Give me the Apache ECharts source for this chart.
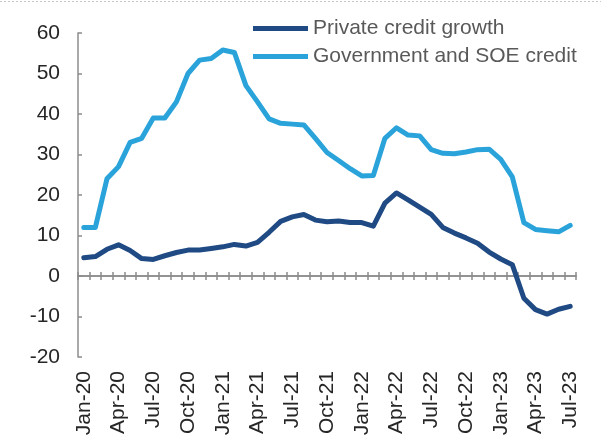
<!DOCTYPE html>
<html>
<head>
<meta charset="utf-8">
<script src="https://cdn.jsdelivr.net/npm/echarts@6/dist/echarts.min.js"></script>
<style>
  html, body { margin: 0; padding: 0; background: #ffffff; }
  #chart { width: 601px; height: 448px; }
</style>
</head>
<body>
<div id="chart"></div>
<script>
// Monthly categories, Jan-20 .. Jul-23
const months = [
  'Jan-20','Feb-20','Mar-20','Apr-20','May-20','Jun-20','Jul-20','Aug-20','Sep-20','Oct-20','Nov-20','Dec-20',
  'Jan-21','Feb-21','Mar-21','Apr-21','May-21','Jun-21','Jul-21','Aug-21','Sep-21','Oct-21','Nov-21','Dec-21',
  'Jan-22','Feb-22','Mar-22','Apr-22','May-22','Jun-22','Jul-22','Aug-22','Sep-22','Oct-22','Nov-22','Dec-22',
  'Jan-23','Feb-23','Mar-23','Apr-23','May-23','Jun-23','Jul-23'
];

// Private credit growth, % y/y
const privateCredit = [
  4.5, 4.8, 6.6, 7.7, 6.3, 4.3, 4.1, 5.0, 5.8, 6.4, 6.4, 6.8,
  7.2, 7.8, 7.4, 8.3, 10.8, 13.5, 14.6, 15.2, 13.8, 13.4, 13.6, 13.2,
  13.2, 12.3, 18.0, 20.5, 18.8, 17.0, 15.2, 12.0, 10.6, 9.4, 8.1, 5.9,
  4.2, 2.8, -5.5, -8.3, -9.4, -8.2, -7.5
];

// Government and SOE credit growth, % y/y
const govSoeCredit = [
  12.0, 12.0, 24.0, 27.0, 33.0, 34.0, 39.0, 39.0, 43.0, 50.0, 53.3, 53.7,
  55.8, 55.2, 47.0, 43.0, 38.8, 37.7, 37.5, 37.3, 34.0, 30.5, 28.5, 26.5,
  24.7, 24.8, 34.0, 36.6, 34.8, 34.6, 31.2, 30.3, 30.2, 30.6, 31.2, 31.3,
  28.8, 24.5, 13.2, 11.5, 11.2, 10.9, 12.5
];

const seriesNames = ['Private credit growth', 'Government and SOE credit'];
const yMin = -20, yMax = 60, yStep = 10;

const FONT = '"Liberation Sans", Arial, sans-serif';
const axisGray = '#8c8c8c';

const chart = echarts.init(document.getElementById('chart'), null, { renderer: 'canvas' });

const valueAxis = {
  type: 'value',
  min: yMin, max: yMax, interval: yStep,
  splitLine: { show: false },
  axisLine: { show: true, lineStyle: { color: axisGray, width: 1.5 } },
  axisTick: { show: true, inside: true, length: 4, lineStyle: { color: axisGray, width: 1.5 } },
  axisLabel: { color: '#262626', fontFamily: FONT, fontSize: 21, margin: 18 }
};

// Two copies of the month axis sit on the zero line: one with ticks
// pointing down, one with ticks pointing up, so the marks cross the line.
const tickAxis = (inside) => ({
  type: 'category',
  data: months,
  position: 'bottom',
  boundaryGap: true,
  axisLine: { show: true, onZero: true, onZeroAxisIndex: 0, lineStyle: { color: axisGray, width: 1.5 } },
  axisTick: { show: true, inside: inside, length: 4, interval: 0, lineStyle: { color: axisGray, width: 1.5 } },
  axisLabel: { show: false },
  splitLine: { show: false }
});

chart.setOption({
  backgroundColor: '#ffffff',
  animation: false,
  grid: { left: 78, right: 25, top: 33, bottom: 91, containLabel: false },
  graphic: [{
    type: 'line',
    shape: { x1: 0, y1: 1.5, x2: 601, y2: 1.5 },
    style: { stroke: '#c8c8c8', lineWidth: 1, lineDash: [2, 2] },
    silent: true
  }],
  legend: {
    orient: 'vertical',
    left: 248, top: 13,
    itemWidth: 55, itemHeight: 5,
    itemGap: 7,
    icon: 'rect',
    textStyle: { color: '#595959', fontFamily: FONT, fontSize: 21 },
    data: seriesNames
  },
  xAxis: [
    {
      type: 'category',
      data: months,
      position: 'bottom',
      boundaryGap: true,
      axisLine: { show: false, onZero: false },
      axisTick: { show: false },
      splitLine: { show: false },
      axisLabel: {
        interval: 2, rotate: 90, margin: 14,
        color: '#262626', fontFamily: FONT, fontSize: 21
      }
    },
    tickAxis(false),
    tickAxis(true)
  ],
  yAxis: [valueAxis],
  series: [
    {
      name: seriesNames[0],
      type: 'line',
      data: privateCredit,
      xAxisIndex: 0, yAxisIndex: 0,
      showSymbol: false, symbol: 'none',
      z: 3,
      color: '#1F4A84',
      lineStyle: { width: 5, color: '#1F4A84', join: 'round', cap: 'round' }
    },
    {
      name: seriesNames[1],
      type: 'line',
      data: govSoeCredit,
      xAxisIndex: 0, yAxisIndex: 0,
      showSymbol: false, symbol: 'none',
      z: 2,
      color: '#2AA3DA',
      lineStyle: { width: 5, color: '#2AA3DA', join: 'round', cap: 'round' }
    }
  ]
});
</script>
</body>
</html>
